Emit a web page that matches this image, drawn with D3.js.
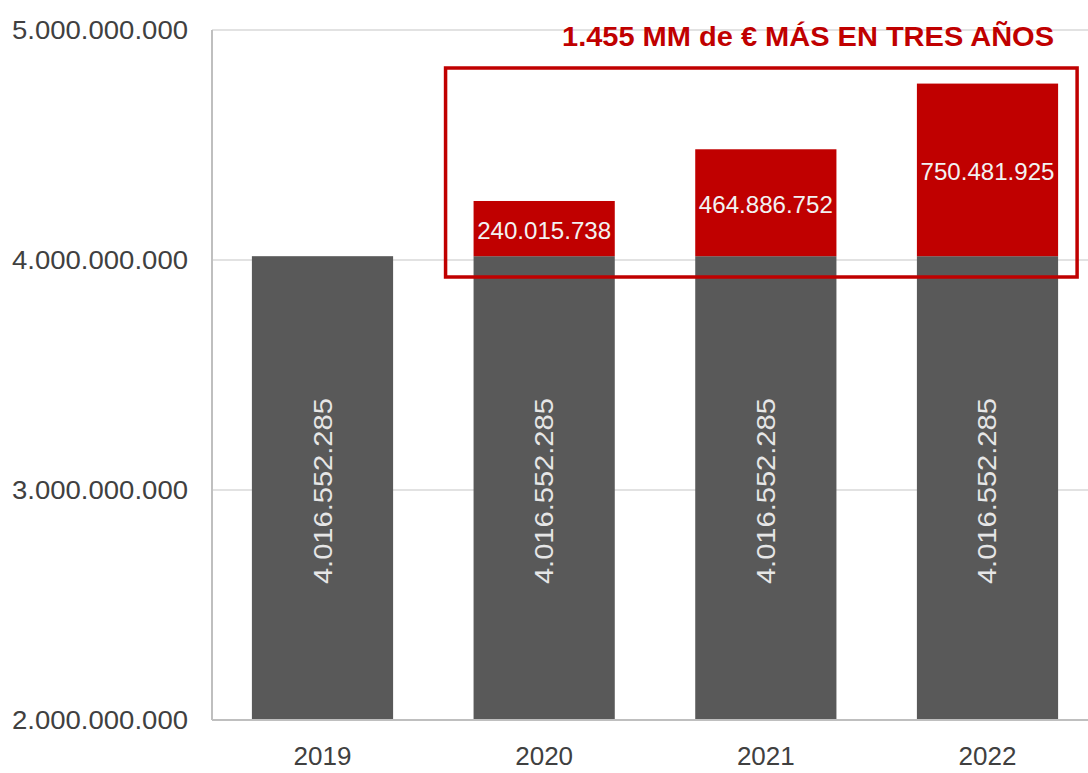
<!DOCTYPE html>
<html>
<head>
<meta charset="utf-8">
<script src="https://cdn.jsdelivr.net/npm/d3@7"></script>
<style>
  html, body { margin: 0; padding: 0; background: #fff; }
  svg { display: block; font-family: "Liberation Sans", Arial, sans-serif; }
</style>
</head>
<body>
<svg id="chart" width="1088" height="773"></svg>
<script>
// data
const years = ["2019", "2020", "2021", "2022"];
const baseValues = [4016552285, 4016552285, 4016552285, 4016552285];
const extraValues = [0, 240015738, 464886752, 750481925];
const yTicks = [2000000000, 3000000000, 4000000000, 5000000000];
const annotation = "1.455 MM de \u20AC M\u00C1S EN TRES A\u00D1OS";

const grayColor = "#595959";
const redColor = "#c00000";

const svg = d3.select("#chart");

const x = d3.scaleBand()
    .domain(years)
    .range([212, 1098])
    .paddingInner(0.363)
    .paddingOuter(0.18);

const y = d3.scaleLinear()
    .domain([2000000000, 5000000000])
    .range([720, 30]);

// es-ES style number format: dots as thousands separator
const fmt = d3.formatLocale({decimal: ",", thousands: ".", grouping: [3], currency: ["", "\u20AC"]}).format(",d");

// gridlines
svg.append("g")
    .selectAll("line")
    .data(yTicks.slice(1))
    .join("line")
    .attr("x1", 212)
    .attr("x2", 1088)
    .attr("y1", d => y(d))
    .attr("y2", d => y(d))
    .attr("stroke", "#d9d9d9")
    .attr("stroke-width", 1.5);

// y tick labels
svg.append("g")
    .selectAll("text")
    .data(yTicks)
    .join("text")
    .attr("x", 188)
    .attr("y", d => y(d))
    .attr("text-anchor", "end")
    .attr("dominant-baseline", "central")
    .attr("font-size", 26)
    .attr("fill", "#404040")
    .attr("textLength", 176)
    .attr("lengthAdjust", "spacingAndGlyphs")
    .text(d => fmt(d));

// gray base bars
const bars = svg.append("g");
bars.selectAll(".base")
    .data(years)
    .join("rect")
    .classed("base", true)
    .attr("x", d => x(d))
    .attr("width", x.bandwidth())
    .attr("y", (d, i) => y(baseValues[i]))
    .attr("height", (d, i) => y(2000000000) - y(baseValues[i]))
    .attr("fill", grayColor);

// red increments
bars.selectAll(".extra")
    .data(years.filter((d, i) => extraValues[i] > 0))
    .join("rect")
    .classed("extra", true)
    .attr("x", d => x(d))
    .attr("width", x.bandwidth())
    .attr("y", d => { const i = years.indexOf(d); return y(baseValues[i] + extraValues[i]); })
    .attr("height", d => { const i = years.indexOf(d); return y(baseValues[i]) - y(baseValues[i] + extraValues[i]); })
    .attr("fill", redColor);

// axes lines
svg.append("line")
    .attr("x1", 212).attr("x2", 212)
    .attr("y1", y(5000000000)).attr("y2", 720)
    .attr("stroke", "#bfbfbf").attr("stroke-width", 2);
svg.append("line")
    .attr("x1", 212).attr("x2", 1088)
    .attr("y1", 720).attr("y2", 720)
    .attr("stroke", "#bfbfbf").attr("stroke-width", 2);

// base value labels (rotated)
svg.append("g")
    .selectAll("text")
    .data(years)
    .join("text")
    .attr("transform", (d, i) => {
        const cx = x(d) + x.bandwidth() / 2;
        const cy = (y(baseValues[i]) + y(2000000000)) / 2 + 3;
        return `translate(${cx},${cy}) rotate(-90)`;
    })
    .attr("text-anchor", "middle")
    .attr("dominant-baseline", "central")
    .attr("font-size", 26)
    .attr("fill", "#e6e6e6")
    .attr("textLength", 186)
    .attr("lengthAdjust", "spacingAndGlyphs")
    .text((d, i) => fmt(baseValues[i]));

// increment labels
svg.append("g")
    .selectAll("text")
    .data(years.filter((d, i) => extraValues[i] > 0))
    .join("text")
    .attr("x", d => x(d) + x.bandwidth() / 2)
    .attr("y", d => {
        const i = years.indexOf(d);
        return (y(baseValues[i]) + y(baseValues[i] + extraValues[i])) / 2 + 2;
    })
    .attr("text-anchor", "middle")
    .attr("dominant-baseline", "central")
    .attr("font-size", 24)
    .attr("fill", "#f2f2f2")
    .attr("textLength", 134)
    .attr("lengthAdjust", "spacingAndGlyphs")
    .text(d => fmt(extraValues[years.indexOf(d)]));

// x labels
svg.append("g")
    .selectAll("text")
    .data(years)
    .join("text")
    .attr("x", d => x(d) + x.bandwidth() / 2)
    .attr("y", 756)
    .attr("text-anchor", "middle")
    .attr("dominant-baseline", "central")
    .attr("font-size", 26)
    .attr("fill", "#404040")
    .text(d => d);

// annotation box around the increments
const boxLeft = x("2020") - 28;
const boxRight = x("2022") + x.bandwidth() + 19;
svg.append("rect")
    .attr("x", boxLeft)
    .attr("y", 68)
    .attr("width", boxRight - boxLeft)
    .attr("height", 209)
    .attr("fill", "none")
    .attr("stroke", redColor)
    .attr("stroke-width", 3.5);

svg.append("text")
    .attr("x", 808)
    .attr("y", 37)
    .attr("text-anchor", "middle")
    .attr("dominant-baseline", "central")
    .attr("font-size", 27)
    .attr("font-weight", "bold")
    .attr("fill", redColor)
    .attr("textLength", 492)
    .attr("lengthAdjust", "spacingAndGlyphs")
    .text(annotation);
</script>
</body>
</html>
